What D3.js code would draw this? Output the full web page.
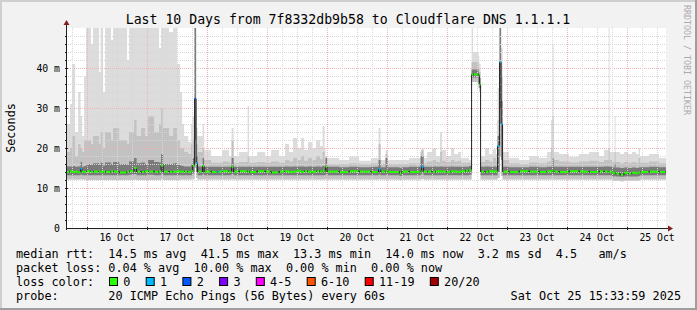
<!DOCTYPE html>
<html><head><meta charset="utf-8">
<script src="https://cdn.jsdelivr.net/npm/d3@7"></script>
<style>
html,body{margin:0;padding:0;background:#f2f2f2;}
svg{display:block;}
text{font-family:"DejaVu Sans Mono",monospace;white-space:pre;}
</style></head><body>
<svg id="c" width="697" height="310" xml:space="preserve"></svg>
<script>
// ---- data (hours since 2025-10-15 00:00, values in ms) ----
const hours = [15.57,17.2,18.0,19.2,20.4,21.4,22.0,22.8,23.6,25.6,
26.4,28.8,29.4,30.4,31.2,33.6,34.4,36.8,40.0,40.8,
42.8,43.8,45.6,47.2,48.4,50.8,52.8,53.6,54.4,56.8,
58.4,60.0,61.2,62.0,62.8,64.4,65.6,66.2,67.0,67.6,
68.2,70.2,70.8,73.6,76.2,76.8,78.0,80.8,81.8,82.6,
84.8,88.2,88.8,92.0,95.2,97.6,100.8,103.2,104.8,106.4,
108.0,109.6,110.8,112.4,114.0,115.6,117.2,118.2,119.0,119.4,
120.0,124.8,128.8,132.8,137.6,140.6,141.4,143.4,144.2,149.0,
149.8,152.8,157.4,157.8,158.6,160.0,162.0,163.6,165.2,166.0,
167.6,169.6,170.8,172.4,173.6,175.2,176.8,177.8,178.4,180.6,
180.9,181.4,183.2,184.8,186.4,187.6,188.2,189.0,189.6,190.2,
192.8,196.8,200.8,204.8,208.0,209.6,210.2,210.6,212.8,216.8,
220.8,224.8,228.8,230.8,232.6,233.0,234.0,235.0,235.4,237.2,
238.8,240.4,242.0,243.6,244.6,245.2,248.8,252.8,255.6];

const pingMin = [12.1,12.1,12.1,12.1,12.1,12.2,12.1,12.1,12.0,12.0,
12.0,12.0,12.0,12.0,12.0,12.0,12.0,12.0,12.0,12.0,
12.1,12.0,12.0,12.0,12.0,12.0,12.0,12.2,12.0,12.0,
12.0,12.0,12.1,12.1,12.1,12.1,12.1,12.2,15.0,12.5,
12.1,12.2,12.1,12.1,12.1,12.1,12.1,12.1,12.2,12.1,
12.1,12.1,12.1,12.1,12.1,12.1,12.1,12.1,12.1,12.1,
12.1,12.1,12.1,12.1,12.1,12.1,12.1,12.1,12.1,12.2,
12.1,12.1,12.1,12.1,12.1,12.2,12.1,12.1,12.1,12.0,
12.1,12.1,12.1,12.3,12.1,12.1,12.1,12.1,12.1,12.1,
12.1,12.1,12.1,12.1,12.1,12.1,12.1,36.5,36.5,35.0,
34.0,12.1,12.1,12.1,12.1,12.1,12.5,18.0,13.0,12.1,
12.1,12.1,12.1,12.1,12.1,12.1,12.1,12.1,12.1,12.1,
12.1,12.1,12.1,12.1,12.1,12.1,11.8,11.8,11.8,11.7,
11.8,11.8,11.8,11.8,11.9,12.1,12.1,12.1,12.1];

const pingQ1 = [13.2,13.2,13.2,13.2,13.2,13.4,13.2,13.2,13.2,13.2,
13.2,13.2,13.2,13.2,13.2,13.2,13.2,13.2,13.2,13.3,
13.5,13.2,13.2,13.2,13.3,13.2,13.2,13.6,13.2,13.2,
13.2,13.2,13.2,13.2,13.2,13.2,13.2,13.6,22.0,13.8,
13.2,13.5,13.2,13.2,13.2,13.2,13.2,13.2,13.5,13.2,
13.2,13.2,13.2,13.2,13.2,13.2,13.2,13.2,13.2,13.2,
13.2,13.2,13.2,13.2,13.2,13.2,13.2,13.2,13.2,13.5,
13.2,13.2,13.2,13.2,13.2,13.4,13.2,13.3,13.2,13.0,
13.2,13.2,13.3,13.6,13.2,13.2,13.2,13.2,13.2,13.2,
13.2,13.2,13.2,13.2,13.2,13.2,13.3,37.6,37.6,36.0,
35.0,13.2,13.2,13.2,13.2,13.2,14.0,30.0,17.0,13.2,
13.2,13.2,13.2,13.2,13.2,13.2,13.3,13.2,13.2,13.2,
13.2,13.2,13.2,13.2,13.2,13.2,12.9,13.0,12.9,12.8,
12.9,12.9,12.9,12.9,13.0,13.2,13.2,13.2,13.2];

const median = [14.0,14.2,14.0,14.1,13.9,14.8,14.1,14.0,14.2,14.0,
14.1,14.2,14.0,14.1,14.0,14.2,14.1,13.9,14.1,14.2,
15.0,14.1,14.0,14.2,14.1,14.0,14.2,15.6,14.1,14.0,
14.1,14.2,14.0,14.1,14.1,14.0,14.3,15.6,32.3,16.2,
14.1,15.5,14.1,14.0,14.1,14.1,14.2,14.0,15.3,14.1,
14.2,14.1,14.0,14.2,14.1,13.9,14.1,14.2,14.0,14.1,
14.3,14.0,14.2,14.1,14.0,14.2,14.1,14.3,14.1,15.3,
14.1,14.0,14.2,14.1,14.0,14.7,14.1,14.2,14.0,13.6,
14.1,14.0,14.2,15.3,14.1,14.1,14.0,14.2,14.1,14.1,
14.0,14.2,14.1,14.0,14.2,14.3,14.4,38.4,38.4,38.2,
35.9,14.1,14.0,14.2,14.1,14.1,20.5,41.5,26.0,14.1,
14.0,14.2,14.1,14.0,14.2,14.1,14.3,14.1,14.0,14.2,
14.1,14.0,14.2,14.1,14.0,14.1,13.8,13.9,13.6,13.3,
13.8,13.6,13.8,13.7,13.9,14.0,14.1,14.0,14.0];

const pingQ3 = [15.4,15.4,15.5,15.3,15.4,16.5,15.3,15.5,16.0,15.8,
16.2,15.8,16.3,15.6,16.4,16.0,16.5,16.0,15.8,16.6,
17.5,16.2,16.4,16.0,17.0,16.5,16.4,18.5,16.0,16.0,
16.2,15.8,15.6,15.5,15.4,15.4,15.8,17.5,55.0,18.0,
15.4,17.5,15.3,15.3,15.3,15.3,15.3,15.3,17.5,15.3,
15.3,15.3,15.3,15.3,15.3,15.3,15.3,15.4,15.3,15.4,
15.4,15.4,15.3,15.4,15.3,15.4,15.3,15.5,15.3,17.5,
15.3,15.2,15.3,15.2,15.3,17.0,15.2,17.5,15.2,15.0,
15.2,15.3,18.0,18.0,15.3,15.3,15.4,15.3,15.4,15.3,
15.3,15.4,15.3,15.3,15.3,15.3,15.5,39.6,39.6,38.8,
37.5,15.3,15.4,15.3,15.4,15.3,23.0,55.0,32.0,15.3,
15.2,15.2,15.3,15.2,15.3,15.4,17.5,15.3,15.3,15.3,
15.3,15.3,15.3,15.4,15.4,15.3,15.1,16.0,15.1,15.0,
15.1,15.0,15.1,15.0,15.2,15.2,15.3,15.2,15.2];

const pingP90 = [19,20,23,18,21,20,19,22,22,21,
23,21,24,20,24,22,25,22,21,24,
27,23,25,23,28,24,26,30,25,23,
25,22,20,20,19,18.5,21,22,55,21,
19,20,17,16.3,16.3,16.3,16.6,16.3,22,16.3,
16.5,18,16.3,16.5,16.3,16.6,16.3,17,16.6,17.5,
17,18,16.8,17.5,17,18,17.2,19,17,17.8,
16,16,16.2,16,16.2,21,16,18.5,16,16,
16,16.2,19,19.5,16.2,16.6,17,16.5,19,16.8,
16.5,17,16.6,16.8,16.3,16.3,16.3,41.5,41.5,40,
39,16.5,17,16.6,17.5,16.6,27,55,38,17,
16.2,16,16.4,16.2,16.6,20,28,17,16.6,16.4,
16.6,16.8,16.5,17,20,17,16.5,19,16.5,16.2,
16.5,16.3,16.5,16.3,17.5,16.3,16.6,16.2,16.2];

const pingMax = [26,31,41,24,34,28,23,38,55,46,
55,39,55,34,55,47,55,55,42,55,
55,55,51,55,55,55,45,55,55,49,
55,41,34,26,23,21.5,26,28,55,25,
23,26,19.5,18,18,18,19.5,18,25,18,
19,30.5,18,19,18,19.5,18,21,19,22.5,
20,22.5,19.5,21.5,20,22,20.5,25.5,20,18,
17.5,17,17.8,16.8,17.5,25,17,19.5,17,17,
17,17.5,19.5,20,17.5,19,20,18,24,19.5,
18,20,18.5,19,17.5,17.5,17,55,44,43,
41,18,20,18.5,19.7,18.5,35,55,45,19,
17.5,17,18,17.5,19,27,46,19,18.5,17.8,
18.5,19,18,19.5,55,19,19,28,19,18.5,
19,18.5,19,18.5,20,18,18.5,17.5,17.5];

const lossCount = [0,0,0,0,0,1,0,0,0,0,
0,0,0,0,0,0,0,0,0,0,
0,0,0,0,0,0,0,0,0,0,
0,0,0,0,0,0,0,0,2,1,
0,0,0,0,1,0,0,0,0,0,
0,0,0,0,0,0,0,0,0,0,
0,0,0,0,0,0,0,0,0,0,
0,0,0,0,0,1,0,0,0,0,
0,0,0,1,0,0,0,0,0,0,
0,0,0,0,0,0,0,0,0,0,
0,0,0,0,0,0,1,1,1,0,
0,0,0,0,0,0,0,0,0,0,
0,0,0,0,0,0,0,0,0,0,
0,0,0,0,0,0,0,0,0];

const dayLabels = ["16 Oct","17 Oct","18 Oct","19 Oct","20 Oct","21 Oct","22 Oct","23 Oct","24 Oct","25 Oct"];
const dayLabelHours = [36,60,84,108,132,156,180,204,228,252];
const yTickValues = [0,10,20,30,40];
const yTickLabels = ["0","10 m","20 m","30 m","40 m"];
const lossBuckets = ["0","1","2","3","4-5","6-10","11-19","20/20"];
const lossColors = ["#26ff00","#00b8ff","#0059ff","#7e00ff","#ff00ff","#ff5500","#ff0000","#a10000"];
const titleText = "Last 10 Days from 7f8332db9b58 to Cloudflare DNS 1.1.1.1";
const legendLines = [
  "median rtt:  14.5 ms avg  41.5 ms max  13.3 ms min  14.0 ms now  3.2 ms sd  4.5   am/s",
  "packet loss: 0.04 % avg  10.00 % max  0.00 % min  0.00 % now",
  "loss color:",
  "probe:       20 ICMP Echo Pings (56 Bytes) every 60s"
];
const stampText = "Sat Oct 25 15:33:59 2025";
const watermark = "RRDTOOL / TOBI OETIKER";

// ---- layout ----
const W = 697, H = 310;
const L = 66, R = 666, T = 28, B = 228;
const tStart = 15 + 33/60 + 59/3600, tEnd = tStart + 240;
const x = d3.scaleLinear().domain([tStart, tEnd]).range([L, R]);
const y = d3.scaleLinear().domain([0, 50]).range([B, T]);

const svg = d3.select("#c");
svg.append("rect").attr("width", W).attr("height", H).attr("fill", "#f2f2f2");
svg.append("rect").attr("x",0).attr("y",0).attr("width",W).attr("height",2).attr("fill","#cfcfcf");
svg.append("rect").attr("x",0).attr("y",0).attr("width",2).attr("height",H).attr("fill","#cfcfcf");
svg.append("rect").attr("x",0).attr("y",H-2).attr("width",W).attr("height",2).attr("fill","#9e9e9e");
svg.append("rect").attr("x",W-2).attr("y",0).attr("width",2).attr("height",H).attr("fill","#9e9e9e");

svg.append("rect").attr("x", L).attr("y", T).attr("width", R-L).attr("height", B-T).attr("fill", "#ffffff");

svg.append("defs").append("clipPath").attr("id","clip")
  .append("rect").attr("x", L).attr("y", T).attr("width", R-L).attr("height", B-T);

const data = hours.map((h,i)=>({h, lo:pingMin[i], q1:pingQ1[i], med:median[i], q3:pingQ3[i], p90:pingP90[i], hi:pingMax[i], loss:lossCount[i]}));

const smoke = svg.append("g").attr("clip-path","url(#clip)");
const band = (a,b) => d3.area().curve(d3.curveStepAfter).x(d=>x(d.h)).y0(d=>y(d[a])).y1(d=>y(d[b]));
smoke.append("path").datum(data).attr("d", band("lo","hi")).attr("fill","#dcdcdc");
smoke.append("path").datum(data).attr("d", band("lo","p90")).attr("fill","#c2c2c2");
smoke.append("path").datum(data).attr("d", band("q1","q3")).attr("fill","#7a7a7a");

// grid
const grid = svg.append("g");
for (let v = 2; v < 50; v += 2) {
  const major = v % 10 === 0;
  const yy = Math.round(y(v)) + 0.5;
  grid.append("line").attr("x1", L).attr("x2", R).attr("y1", yy).attr("y2", yy)
    .attr("stroke", major ? "#ebb3b3" : "#d6d6d6").attr("stroke-width", 1).attr("stroke-dasharray","1,1");
}
for (let h = 18; h < tEnd; h += 6) {
  const major = h % 24 === 0;
  const xx = Math.round(x(h)) + 0.5;
  grid.append("line").attr("x1", xx).attr("x2", xx).attr("y1", T).attr("y2", B)
    .attr("stroke", major ? "#ebb3b3" : "#d6d6d6").attr("stroke-width", 1).attr("stroke-dasharray","1,1");
}

// median line (drawn above grid)
const med = svg.append("g").attr("clip-path","url(#clip)");
med.append("path").datum(data)
  .attr("d", d3.line().curve(d3.curveStepAfter).x(d=>x(d.h)).y(d=>y(d.med)))
  .attr("fill","none").attr("stroke","#202020").attr("stroke-width",1);
const bucket = c => c===0?0:c===1?1:c===2?2:c===3?3:c<=5?4:c<=10?5:c<20?6:7;
for (let i = 0; i < data.length-1; i++) {
  let x1 = x(data[i].h), x2 = x(data[i+1].h);
  if (x2 - x1 > 4) { x1 += 0.8; x2 -= 0.8; }
  med.append("line").attr("x1", x1).attr("x2", x2)
    .attr("y1", y(data[i].med)).attr("y2", y(data[i].med))
    .attr("stroke", lossColors[bucket(data[i].loss)]).attr("stroke-width", 2);
}

// axes
const ax = svg.append("g");
ax.append("line").attr("x1", L).attr("x2", R+2).attr("y1", B+0.5).attr("y2", B+0.5).attr("stroke","#1f1f1f");
ax.append("line").attr("x1", L+0.5).attr("x2", L+0.5).attr("y1", B+2).attr("y2", T-3).attr("stroke","#1f1f1f");
ax.append("path").attr("d", `M${R+2},${B-2.5}L${R+7},${B+0.5}L${R+2},${B+3.5}Z`).attr("fill","#801f1f");
ax.append("path").attr("d", `M${L-2.5},${T-3}L${L+0.5},${T-8}L${L+3.5},${T-3}Z`).attr("fill","#801f1f");
for (let h = 24; h < tEnd; h += 24) {
  const xx = Math.round(x(h)) + 0.5;
  ax.append("line").attr("x1", xx).attr("x2", xx).attr("y1", B-1).attr("y2", B+2).attr("stroke","#1f1f1f");
}
for (let v = 2; v < 50; v += 2) {
  const yy = Math.round(y(v)) + 0.5;
  ax.append("line").attr("x1", L-1).attr("x2", L+(v%10===0?2:1)).attr("y1", yy).attr("y2", yy).attr("stroke","#1f1f1f");
}

// tick labels
yTickValues.forEach((v,i)=>{
  svg.append("text").attr("x", 60).attr("y", y(v)+3.5).attr("text-anchor","end")
    .attr("font-size","9.8px").attr("fill","#000").text(yTickLabels[i]);
});
dayLabels.forEach((s,i)=>{
  svg.append("text").attr("x", x(dayLabelHours[i])).attr("y", 241).attr("text-anchor","middle")
    .attr("font-size","9.8px").attr("fill","#000").text(s);
});

// titles
svg.append("text").attr("x", 348).attr("y", 23.5).attr("text-anchor","middle")
  .attr("font-size","13.2px").attr("fill","#000").text(titleText);
svg.append("text").attr("transform", `translate(15,${(T+B)/2}) rotate(-90)`).attr("text-anchor","middle")
  .attr("font-size","11.8px").attr("fill","#000").text("Seconds");
svg.append("text").attr("transform", "translate(684,5) rotate(90)").attr("text-anchor","start")
  .attr("font-size","8.3px").attr("fill","#ababab").text(watermark);

// legend
const lx = 16, cw = 7.1;
legendLines.forEach((s,i)=>{
  svg.append("text").attr("x", lx).attr("y", 258 + i*14).attr("font-size","11.8px").attr("fill","#000").text(s);
});
let sx = 109;
lossBuckets.forEach((lab,i)=>{
  svg.append("rect").attr("x", sx+0.5).attr("y", 277.5).attr("width", 8).attr("height", 8)
    .attr("fill", lossColors[i]).attr("stroke","#000").attr("stroke-width",1);
  svg.append("text").attr("x", sx+14.3).attr("y", 286).attr("font-size","11.8px").attr("fill","#000").text(lab);
  sx += lab.length*cw + 29.6;
});
svg.append("text").attr("x", 681).attr("y", 300).attr("text-anchor","end")
  .attr("font-size","11.8px").attr("fill","#000").text(stampText);
</script>
</body></html>
